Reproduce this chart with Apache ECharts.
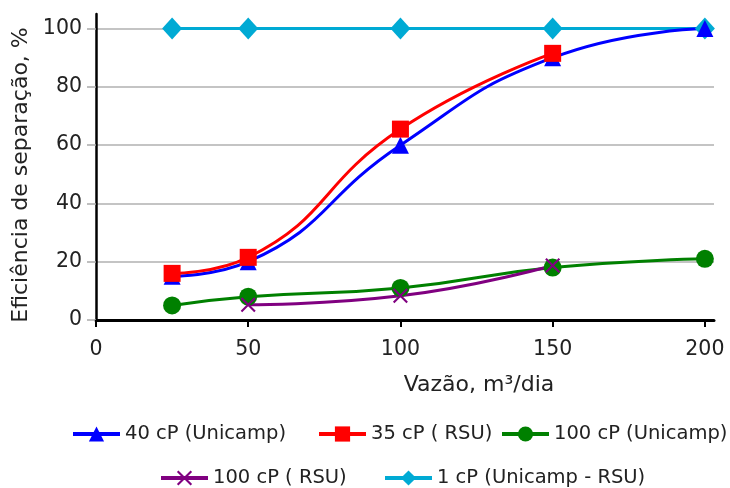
<!DOCTYPE html>
<html><head><meta charset="utf-8">
<script src="https://cdn.jsdelivr.net/npm/echarts@6/dist/echarts.min.js"></script>
<style>html,body{margin:0;padding:0;background:#fff}#c{width:730px;height:488px}</style>
</head><body><div id="c"></div>
<script>
const vazao = [25, 50, 100, 150, 200];
const s40Unicamp = [15, 20, 60, 90, 100];
const s35RSU = [16, 21.5, 65.5, 91.5, null];
const s100Unicamp = [5, 8, 11, 18, 21];
const s100RSU = [null, 5.2, 8.3, 18.7, null];
const s1Both = [100, 100, 100, 100, 100];
const xTicks = [0, 50, 100, 150, 200];
const yTicks = [0, 20, 40, 60, 80, 100];
const names = ['40 cP (Unicamp)', '35 cP ( RSU)', '100 cP (Unicamp)', '100 cP ( RSU)', '1 cP (Unicamp - RSU)'];

function pts(ys){ const out=[]; ys.forEach((y,i)=>{ if(y!==null) out.push([vazao[i], y]); }); return out; }
const FONT = 'DejaVu Sans';
const crossPath = 'path://M0,1 L1,0 L5,4 L9,0 L10,1 L6,5 L10,9 L9,10 L5,6 L1,10 L0,9 L4,5 Z';

function mkSeries(name, ys, color, symbol, size){
  return {name, type:'line', smooth:true, data:pts(ys), symbol, symbolSize:size,
    lineStyle:{color, width:3}, itemStyle:{color}, emphasis:{disabled:true}};
}
const series = [
  mkSeries(names[4], s1Both, '#00aad4', 'diamond', [20,22]),
  mkSeries(names[0], s40Unicamp, '#0000ff', 'triangle', 17),
  mkSeries(names[1], s35RSU, '#ff0000', 'rect', 17),
  mkSeries(names[2], s100Unicamp, '#008000', 'circle', 18),
  mkSeries(names[3], s100RSU, '#800080', crossPath, 15)
];
function leg(name, left, top){
  return {data:[name], left, top, itemWidth:47, itemHeight:19, itemGap:0,
    lineStyle:{width:4},
    textStyle:{fontFamily:FONT, fontSize:19.5, color:'#222'}, padding:0};
}
const chart = echarts.init(document.getElementById('c'), null, {renderer:'canvas'});
chart.setOption({
  animation:false,
  backgroundColor:'#fff',
  grid:{left:96, right:16, top:14, bottom:168},
  xAxis:{type:'value', min:0, max:203,
    name:'Vazão, m³/dia', nameLocation:'middle', nameGap:54,
    nameTextStyle:{fontFamily:FONT, fontSize:22, color:'#222', padding:[0,0,0,148]},
    axisLine:{show:true, onZero:false, lineStyle:{color:'#000', width:3}},
    axisTick:{show:true, customValues:xTicks, length:7, lineStyle:{color:'#000', width:2}},
    axisLabel:{customValues:xTicks, fontFamily:FONT, fontSize:20.5, color:'#222', margin:19},
    splitLine:{show:false}},
  yAxis:{type:'value', min:0, max:105,
    name:'Eficiência de separação, %', nameLocation:'middle', nameGap:64,
    nameTextStyle:{fontFamily:FONT, fontSize:22, color:'#222', padding:[0,16,0,0]},
    axisLine:{show:true, lineStyle:{color:'#000', width:2.5}},
    axisTick:{show:true, customValues:yTicks, length:9, lineStyle:{color:'#aaa', width:1.5}},
    axisLabel:{customValues:yTicks, fontFamily:FONT, fontSize:20.5, color:'#222', margin:14},
    splitLine:{show:true, lineStyle:{color:'#b0b0b0', width:1.5}}},
  legend:[
    leg(names[0], 71, 424), leg(names[1], 317, 424), leg(names[2], 500, 424),
    leg(names[3], 159, 468), leg(names[4], 383, 468)
  ],
  series
});
</script></body></html>
